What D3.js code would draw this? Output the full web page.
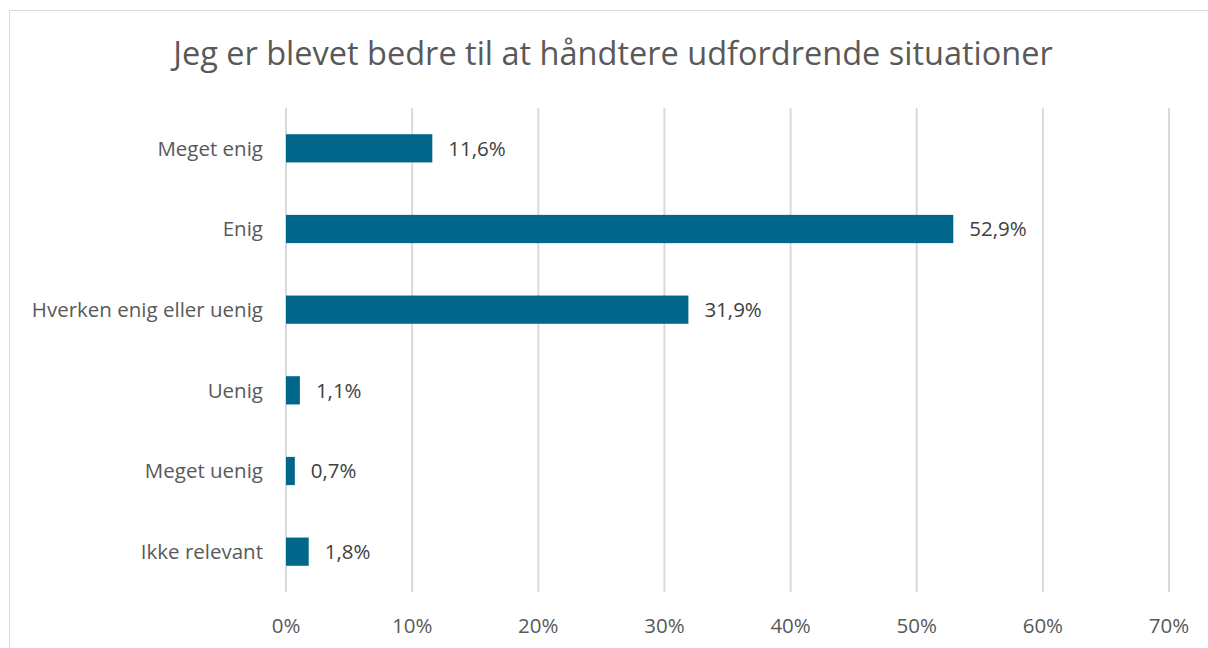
<!DOCTYPE html>
<html>
<head>
<meta charset="utf-8">
<script src="https://cdn.jsdelivr.net/npm/d3@7"></script>
<style>
  body { margin: 0; background: #fff; }
  svg { display: block; font-family: "Open Sans", sans-serif; }
</style>
</head>
<body>
<svg width="1208" height="648"></svg>
<script>
const categories = ["Meget enig", "Enig", "Hverken enig eller uenig", "Uenig", "Meget uenig", "Ikke relevant"];
const values = [11.6, 52.9, 31.9, 1.1, 0.7, 1.8];
const ticks = [0, 10, 20, 30, 40, 50, 60, 70];
const title = "Jeg er blevet bedre til at håndtere udfordrende situationer";

const svg = d3.select("svg");
const fmt = v => d3.format(".1f")(v).replace(".", ",") + "%";

// chart frame
svg.append("rect")
    .attr("x", 9.5).attr("y", 10.5)
    .attr("width", 1210).attr("height", 660)
    .attr("fill", "#fff")
    .attr("stroke", "#d9d9d9");

svg.append("text")
    .attr("x", 613).attr("y", 65)
    .attr("text-anchor", "middle")
    .attr("font-size", 32.5)
    .attr("fill", "#595959")
    .text(title);

const x = d3.scaleLinear().domain([0, 70]).range([286, 1169]);
const y = d3.scaleBand().domain(categories).range([108, 592]).paddingInner(0.65).paddingOuter(0.325);

const g = svg.append("g");

g.selectAll("line.grid")
    .data(ticks)
    .enter().append("line")
    .attr("class", "grid")
    .attr("x1", d => x(d)).attr("x2", d => x(d))
    .attr("y1", 108).attr("y2", 592)
    .attr("stroke", "#d9d9d9")
    .attr("stroke-width", 2);

g.selectAll("text.tick")
    .data(ticks)
    .enter().append("text")
    .attr("class", "tick")
    .attr("x", d => x(d)).attr("y", 633)
    .attr("text-anchor", "middle")
    .attr("font-size", 20.5)
    .attr("fill", "#595959")
    .text(d => d + "%");

g.selectAll("rect.bar")
    .data(values)
    .enter().append("rect")
    .attr("class", "bar")
    .attr("x", x(0))
    .attr("y", (d, i) => y(categories[i]))
    .attr("width", d => x(d) - x(0))
    .attr("height", y.bandwidth())
    .attr("fill", "#00678a");

g.selectAll("text.cat")
    .data(categories)
    .enter().append("text")
    .attr("class", "cat")
    .attr("x", 263)
    .attr("y", d => y(d) + y.bandwidth() / 2)
    .attr("dy", "0.35em")
    .attr("text-anchor", "end")
    .attr("font-size", 20.5)
    .attr("fill", "#595959")
    .text(d => d);

g.selectAll("text.val")
    .data(values)
    .enter().append("text")
    .attr("class", "val")
    .attr("x", d => x(d) + 16)
    .attr("y", (d, i) => y(categories[i]) + y.bandwidth() / 2)
    .attr("dy", "0.35em")
    .attr("font-size", 20.5)
    .attr("fill", "#404040")
    .text(d => fmt(d));
</script>
</body>
</html>
